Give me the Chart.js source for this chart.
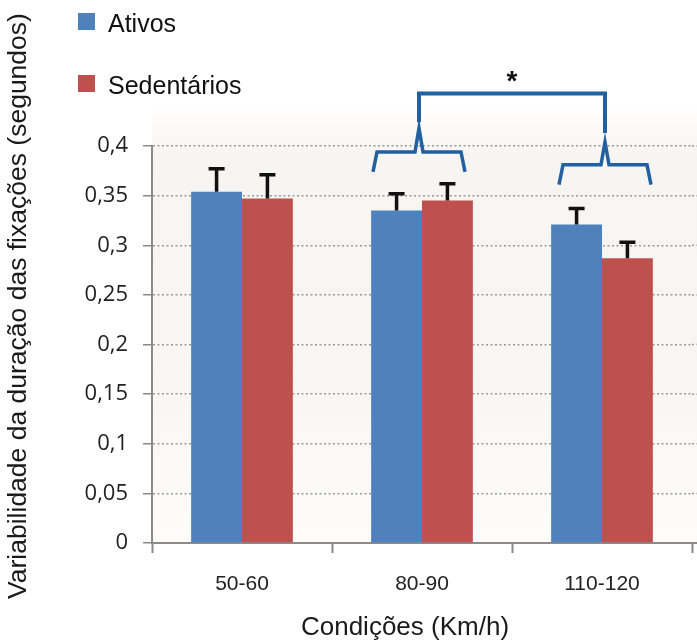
<!DOCTYPE html>
<html>
<head>
<meta charset="utf-8">
<script src="https://cdn.jsdelivr.net/npm/chart.js@4.4.1/dist/chart.umd.min.js"></script>
<style>
  html, body { margin: 0; padding: 0; background: #fff; }
  #wrap { width: 697px; height: 642px; position: relative; }
</style>
</head>
<body>
<div id="wrap"><canvas id="chart"></canvas></div>
<script>
// ================= DATA =================
const categories = ["50-60", "80-90", "110-120"];
const seriesNames = ["Ativos", "Sedentários"];
const ativos = [0.354, 0.335, 0.321];
const sedentarios = [0.347, 0.345, 0.287];
const ativosErr = [0.023, 0.017, 0.016];
const sedentariosErr = [0.024, 0.017, 0.016];
const yTickLabels = ["0", "0,05", "0,1", "0,15", "0,2", "0,25", "0,3", "0,35", "0,4"];
const yTitle = "Variabilidade da duração das fixações (segundos)";
const xTitle = "Condições (Km/h)";

// significance marks, levels in y units
const brackets = [
  { cat: 1, foot: 0.374, bar: 0.394, peak: 0.418, stem: 0.424, shift: -3 },
  { cat: 2, foot: 0.361, bar: 0.381, peak: 0.404, stem: 0.413, shift: 3 }
];
const bridgeLevel = 0.453;
const starLevel = 0.456;

const FONT = "'Liberation Sans', Arial, sans-serif";
const errors = [ativosErr, sedentariosErr];

// ================= PLUGINS =================
const background = {
  id: "background",
  beforeDraw(chart) {
    const { ctx, chartArea: a, width } = chart;
    const g = ctx.createLinearGradient(0, a.top - 40, 0, a.bottom);
    g.addColorStop(0, "rgba(246,243,238,0)");
    g.addColorStop(0.12, "#f7f5f1");
    g.addColorStop(0.6, "#f8f6f2");
    g.addColorStop(1, "#fdfcfb");
    ctx.save();
    ctx.fillStyle = g;
    ctx.fillRect(a.left, a.top - 40, width - a.left, a.bottom - a.top + 40);
    ctx.restore();
  },
  // the plot runs on past the last category, to the picture's edge
  afterDraw(chart) {
    const { ctx, chartArea: a, width } = chart;
    const y = chart.scales.y;
    ctx.save();
    ctx.strokeStyle = "#9a9a9a";
    ctx.lineWidth = 1.5;
    ctx.setLineDash([2, 2.5]);
    y.ticks.forEach((t, i) => {
      if (i === 0) return;
      const py = y.getPixelForTick(i);
      ctx.beginPath();
      ctx.moveTo(a.right, py);
      ctx.lineTo(width, py);
      ctx.stroke();
    });
    ctx.setLineDash([]);
    ctx.strokeStyle = "#8a8a8a";
    ctx.lineWidth = 2;
    ctx.beginPath();
    ctx.moveTo(a.right, a.bottom);
    ctx.lineTo(width, a.bottom);
    ctx.stroke();
    ctx.restore();
  }
};

const errorBars = {
  id: "errorBars",
  afterDatasetsDraw(chart) {
    const ctx = chart.ctx;
    const y = chart.scales.y;
    ctx.save();
    ctx.strokeStyle = "#111";
    ctx.lineWidth = 3.5;
    chart.data.datasets.forEach((ds, di) => {
      chart.getDatasetMeta(di).data.forEach((bar, i) => {
        const top = y.getPixelForValue(ds.data[i] + errors[di][i]);
        ctx.beginPath();
        ctx.moveTo(bar.x, bar.y);
        ctx.lineTo(bar.x, top);
        ctx.moveTo(bar.x - 8, top);
        ctx.lineTo(bar.x + 8, top);
        ctx.stroke();
      });
    });
    ctx.restore();
  }
};

const significance = {
  id: "significance",
  afterDraw(chart) {
    const { ctx } = chart;
    const x = chart.scales.x, y = chart.scales.y;
    const peaks = [];
    ctx.save();
    ctx.strokeStyle = "#2360a0";
    ctx.lineJoin = "miter";
    ctx.lineWidth = 3.5;
    brackets.forEach(b => {
      const cx = x.getPixelForValue(b.cat) + b.shift;
      const foot = y.getPixelForValue(b.foot);
      const bar = y.getPixelForValue(b.bar);
      const peak = y.getPixelForValue(b.peak);
      ctx.beginPath();
      ctx.moveTo(cx - 46, foot);
      ctx.lineTo(cx - 42, bar);
      ctx.lineTo(cx - 4, bar);
      ctx.lineTo(cx, peak);
      ctx.lineTo(cx + 4, bar);
      ctx.lineTo(cx + 42, bar);
      ctx.lineTo(cx + 46, foot);
      ctx.stroke();
      peaks.push({ x: cx, stem: y.getPixelForValue(b.stem) });
    });
    const top = y.getPixelForValue(bridgeLevel);
    ctx.lineWidth = 4;
    ctx.beginPath();
    ctx.moveTo(peaks[0].x, peaks[0].stem);
    ctx.lineTo(peaks[0].x, top);
    ctx.lineTo(peaks[1].x, top);
    ctx.lineTo(peaks[1].x, peaks[1].stem);
    ctx.stroke();
    ctx.fillStyle = "#111";
    ctx.font = "bold 28px " + FONT;
    ctx.textAlign = "center";
    ctx.textBaseline = "alphabetic";
    ctx.fillText("*", (peaks[0].x + peaks[1].x) / 2, y.getPixelForValue(starLevel));
    ctx.restore();
  }
};

const sideLegend = {
  id: "sideLegend",
  afterDraw(chart) {
    const ctx = chart.ctx;
    ctx.save();
    ctx.font = "25px " + FONT;
    ctx.textBaseline = "alphabetic";
    chart.data.datasets.forEach((ds, i) => {
      const top = 13 + i * 62;
      ctx.fillStyle = ds.backgroundColor;
      ctx.fillRect(78, top, 17, 17);
      ctx.fillStyle = "#111";
      ctx.fillText(ds.label, 108, top + 19);
    });
    ctx.restore();
  }
};

const axisTitles = {
  id: "axisTitles",
  afterDraw(chart) {
    const ctx = chart.ctx;
    ctx.save();
    ctx.fillStyle = "#1a1a1a";
    ctx.textAlign = "center";
    ctx.textBaseline = "alphabetic";
    ctx.font = "26px " + FONT;
    ctx.fillText(xTitle, 405, 635);
    ctx.translate(25.5, 306);
    ctx.rotate(-Math.PI / 2);
    ctx.font = "26.5px " + FONT;
    ctx.fillText(yTitle, 0, 0);
    ctx.restore();
  }
};

// ================= CHART =================
new Chart(document.getElementById("chart"), {
  type: "bar",
  data: {
    labels: categories,
    datasets: [
      { label: seriesNames[0], data: ativos, backgroundColor: "#4f81bd" },
      { label: seriesNames[1], data: sedentarios, backgroundColor: "#c0504d" }
    ]
  },
  options: {
    responsive: true,
    maintainAspectRatio: false,
    animation: false,
    datasets: { bar: { barPercentage: 1.0, categoryPercentage: 0.565, borderWidth: 0 } },
    layout: { padding: { top: 146, right: 5, left: 0, bottom: 0 } },
    plugins: { legend: { display: false }, tooltip: { enabled: false } },
    scales: {
      x: {
        ticks: { color: "#222", font: { family: FONT, size: 21 }, padding: 19 },
        grid: { offset: true, drawOnChartArea: false, tickLength: 10, tickColor: "#8a8a8a", tickWidth: 2 },
        border: { color: "#8a8a8a", width: 2 },
        afterFit(scale) { scale.height = 99; }
      },
      y: {
        min: 0,
        max: 0.4,
        ticks: {
          stepSize: 0.05,
          padding: 15,
          color: "#222",
          font: { family: "'Open Sans', sans-serif", size: 22 },
          callback: (v, i) => yTickLabels[i]
        },
        grid: { color: "#9a9a9a", lineWidth: 1.5, tickColor: "#8a8a8a", tickLength: 9, tickWidth: 1.5 },
        border: { color: "#8a8a8a", width: 2, dash: [2, 2.5] },
        afterFit(scale) { scale.width = 152; }
      }
    }
  },
  plugins: [background, errorBars, significance, sideLegend, axisTitles]
});
</script>
</body>
</html>
